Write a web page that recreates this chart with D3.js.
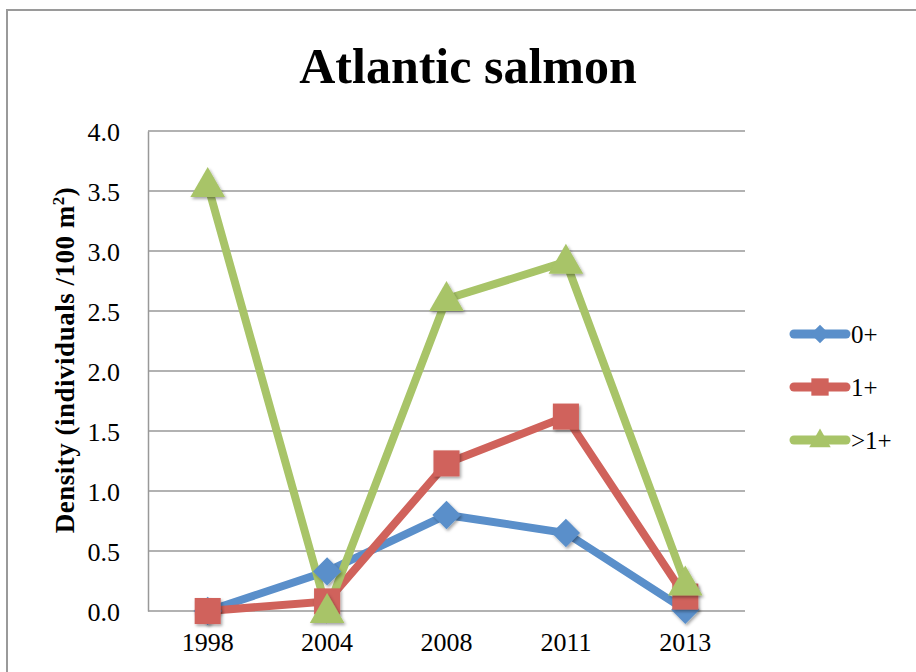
<!DOCTYPE html>
<html>
<head>
<meta charset="utf-8">
<script src="https://cdn.jsdelivr.net/npm/d3@7"></script>
<style>
  html, body { margin: 0; padding: 0; background: #fff; }
  svg { display: block; }
  text { font-family: "Liberation Serif", "Times New Roman", serif; fill: #000; }
</style>
</head>
<body>
<svg id="chart" width="916" height="672"></svg>
<script>
const years = ["1998", "2004", "2008", "2011", "2013"];
const s0 = [0.0, 0.33, 0.80, 0.65, 0.01];
const s1 = [0.0, 0.08, 1.23, 1.62, 0.12];
const s2 = [3.55, 0.0, 2.60, 2.91, 0.23];
const seriesNames = ["0+", "1+", ">1+"];
const yTicks = [0, 0.5, 1.0, 1.5, 2.0, 2.5, 3.0, 3.5, 4.0];

// square diamond symbol (rotated square)
const squareDiamond = {
  draw(ctx, size) {
    const r = Math.sqrt(size / 2);
    ctx.moveTo(0, -r); ctx.lineTo(r, 0); ctx.lineTo(0, r); ctx.lineTo(-r, 0); ctx.closePath();
  }
};

const colors = ["#5A8FCA", "#D0625B", "#A8C468"];
const shapes = [squareDiamond, d3.symbolSquare, d3.symbolTriangle];
const series = [s0, s1, s2].map((v, i) => ({ name: seriesNames[i], values: v, color: colors[i], shape: shapes[i] }));

const svg = d3.select("#chart");
const plot = { left: 148, right: 745, top: 131, bottom: 611 };

const defs = svg.append("defs");
const f = defs.append("filter").attr("id", "shadow").attr("x", "-50%").attr("y", "-50%").attr("width", "200%").attr("height", "200%");
f.append("feDropShadow").attr("dx", 1.5).attr("dy", 2).attr("stdDeviation", 1.5).attr("flood-color", "#000").attr("flood-opacity", 0.35);

// outer frame (cropped at right/bottom)
svg.append("path").attr("d", "M7,672 L7,10 L916,10").attr("fill", "none").attr("stroke", "#9a9a9a").attr("stroke-width", 2);

const x = d3.scaleBand().domain(years).range([plot.left, plot.right]);
const y = d3.scaleLinear().domain([0, 4]).range([plot.bottom, plot.top]);

// gridlines
svg.append("g").selectAll("line").data(yTicks).join("line")
  .attr("x1", plot.left).attr("x2", plot.right)
  .attr("y1", d => y(d)).attr("y2", d => y(d))
  .attr("stroke", "#999").attr("stroke-width", 1.5);

// y axis
const yAxis = svg.append("g").attr("transform", `translate(${plot.left},0)`)
  .call(d3.axisLeft(y).tickValues(yTicks).tickFormat(d3.format(".1f")).tickSize(0).tickPadding(28));
yAxis.select(".domain").attr("stroke", "#999").attr("stroke-width", 1.5);
yAxis.selectAll("text").attr("font-size", 26).attr("dy", "0.36em").style("font-family", "Liberation Serif");

// x axis labels
const xAxis = svg.append("g").attr("transform", `translate(0,${plot.bottom})`)
  .call(d3.axisBottom(x).tickSize(0).tickPadding(22));
xAxis.select(".domain").remove();
xAxis.selectAll("text").attr("font-size", 26).style("font-family", "Liberation Serif");

// lines
const line = d3.line().x((d, i) => x(years[i]) + x.bandwidth() / 2).y(d => y(d));
series.forEach(s => {
  svg.append("path").datum(s.values).attr("d", line)
    .attr("fill", "none").attr("stroke", s.color).attr("stroke-width", 8)
    .attr("stroke-linejoin", "miter");
});
// markers
const markerSize = [400, 680, 520];
series.forEach((s, k) => {
  svg.append("g").selectAll("path").data(s.values).join("path")
    .attr("d", d3.symbol().type(s.shape).size(markerSize[k]))
    .attr("transform", (d, i) => `translate(${x(years[i]) + x.bandwidth() / 2},${y(d) + (k === 2 ? 2 : 0)})`)
    .attr("fill", s.color).attr("filter", "url(#shadow)");
});

// title
svg.append("text").attr("x", 468).attr("y", 83).attr("text-anchor", "middle")
  .attr("font-size", 50).attr("font-weight", "bold").text("Atlantic salmon");

// y axis title
const yt = svg.append("text").attr("transform", "translate(74,360) rotate(-90)")
  .attr("text-anchor", "middle").attr("font-size", 27).attr("font-weight", "bold")
  .attr("letter-spacing", 0.5);
yt.append("tspan").text("Density (individuals /100 m");
yt.append("tspan").attr("font-size", 17).attr("dy", -10).text("2");
yt.append("tspan").attr("dy", 10).text(")");

// legend
const lg = svg.append("g");
const legY = [334, 387, 440];
const legSize = [170, 300, 200];
series.forEach((s, i) => {
  const g = lg.append("g").attr("transform", `translate(0,${legY[i]})`);
  g.append("line").attr("x1", 794).attr("x2", 846).attr("y1", 0).attr("y2", 0)
    .attr("stroke", s.color).attr("stroke-width", 9).attr("stroke-linecap", "round");
  g.append("path").attr("d", d3.symbol().type(s.shape).size(legSize[i])())
    .attr("transform", `translate(820,${i === 2 ? 1 : 0})`).attr("fill", s.color);
  g.append("text").attr("x", 851).attr("y", 0).attr("dy", "0.36em").attr("font-size", 25).text(s.name);
});
</script>
</body>
</html>
